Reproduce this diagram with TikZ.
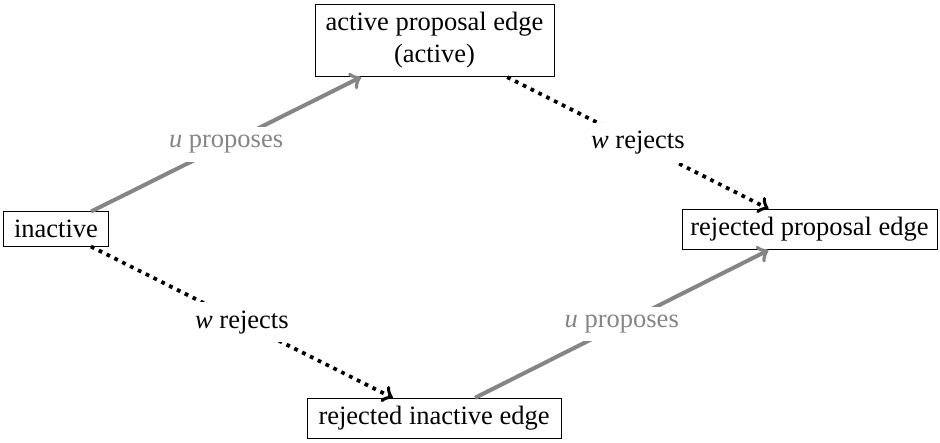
\documentclass[tikz,border=0pt]{standalone}
\usepackage{fontspec}
\setmainfont{Liberation Serif}
\begin{document}
\begin{tikzpicture}[x=0.4pt, y=-0.4pt,
  every node/.style={font=\fontsize{10.6}{12.8}\selectfont},
  state/.style={draw, line width=0.4pt, inner xsep=2pt, inner ysep=3.25pt, align=center},
  flow/.style={->, line width=1.6pt, draw=black!48},
  reject/.style={->, line width=1.5pt, dotted},
  lbl/.style={midway, fill=white}]
  \useasboundingbox (0,0) rectangle (940,442);

  % states
  \node[state, minimum width=41.6pt]  (inactive) at (56,229)    {inactive};
  \node[state, minimum width=95.6pt]  (active)   at (434.5,40.5) {active proposal edge\\(active)};
  \node[state, minimum width=102pt]   (rejprop)  at (809.5,229.5) {rejected proposal edge};
  \node[state, minimum width=101.6pt] (rejinact) at (434,418.5) {rejected inactive edge};

  % transitions
  \draw[flow] (inactive) -- node[lbl, text=black!48] {\textit{u} proposes} (active);
  \draw[reject] (active) -- node[lbl] {\textit{w} rejects} (rejprop);
  \draw[reject] (inactive) -- node[lbl] {\textit{w} rejects} (rejinact);
  \draw[flow] (rejinact) -- node[lbl, text=black!48] {\textit{u} proposes} (rejprop);
\end{tikzpicture}
\end{document}
